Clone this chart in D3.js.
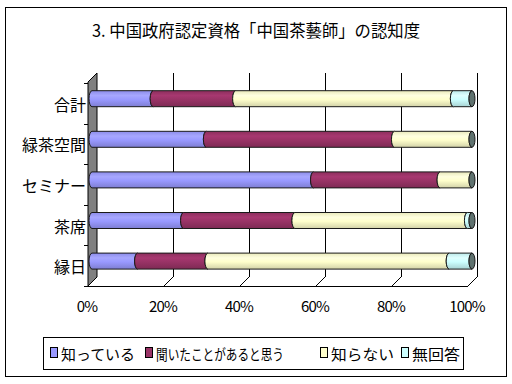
<!DOCTYPE html>
<html><head><meta charset="utf-8">
<script src="https://cdn.jsdelivr.net/npm/d3@7"></script>
<style>html,body{margin:0;padding:0;background:#fff;}svg{display:block;}</style>
</head><body>
<svg id="chart" width="512" height="384"></svg>
<script>
const categories = ["合計","緑茶空間","セミナー","茶席","縁日"];
const seriesNames = ["知っている","聞いたことがあると思う","知らない","無回答"];
const knowValues = [16.1, 30.1, 58.3, 24.1, 12.0];
const heardValues = [21.7, 49.5, 33.3, 29.3, 18.5];
const unknownValues = [57.3, 20.4, 8.4, 45.4, 63.5];
const noAnswerValues = [4.9, 0, 0, 1.2, 6.0];
const tickValues = [0, 20, 40, 60, 80, 100];
const tickLabels = ["0%","20%","40%","60%","80%","100%"];
const colors = ["#9999FF","#993366","#FFFFCC","#CCFFFF"];
const title = "3. 中国政府認定資格「中国茶藝師」の認知度";

const font = "'Noto Sans CJK JP','Noto Sans',sans-serif";
const svg = d3.select("#chart");

// frame
svg.append("rect").attr("x",5.5).attr("y",7.5).attr("width",501).attr("height",369)
  .attr("fill","#fff").attr("stroke","#000").attr("stroke-width",1);

// title
svg.append("text").attr("x",92).attr("y",37).attr("font-family",font).attr("font-size",17)
  .attr("textLength",328).attr("lengthAdjust","spacingAndGlyphs").attr("fill","#000").text(title);

// scales
const depthX = 9, depthY = 9;
const xFront = d3.scaleLinear().domain([0,100]).range([88,468]);
const xBack = d3.scaleLinear().domain([0,100]).range([88+depthX,468+depthX]);
const xBar = d3.scaleLinear().domain([0,100]).range([92,472]);
const yTop = 73, yBackBottom = 277, yFrontBottom = yBackBottom + depthY;
const y = d3.scaleBand().domain(categories).range([78.4, 281.4]);

// wall
svg.append("path")
  .attr("d",`M${xFront(0)},${yTop+depthY} L${xBack(0)},${yTop} L${xBack(0)},${yBackBottom} L${xFront(0)},${yFrontBottom} Z`)
  .attr("fill","#808080").attr("stroke","#000").attr("stroke-width",1);

// gridlines on back plane
const g = svg.append("g").attr("stroke","#000").attr("stroke-width",1).attr("fill","none");
tickValues.forEach(t=>{
  if (t>0) g.append("line").attr("x1",Math.round(xBack(t))+0.5).attr("x2",Math.round(xBack(t))+0.5)
    .attr("y1",yTop).attr("y2",yBackBottom);
  g.append("line").attr("x1",xBack(t)).attr("y1",yBackBottom).attr("x2",xFront(t)).attr("y2",yFrontBottom);
});
g.append("line").attr("x1",xFront(0)).attr("x2",xFront(100)).attr("y1",yFrontBottom+0.5).attr("y2",yFrontBottom+0.5);

// category ticks on wall edge
const bounds = categories.map(c=>y(c)).concat([y.range()[1]]);
bounds.forEach(b=>{
  g.append("line").attr("x1",xFront(0)-4).attr("x2",xFront(0)).attr("y1",Math.round(b+4.5)+0.5).attr("y2",Math.round(b+4.5)+0.5);
});

// category labels
svg.append("g").selectAll("text").data(categories).join("text")
  .attr("x",86).attr("y",c=>y(c)+y.bandwidth()/2+5)
  .attr("text-anchor","end").attr("dominant-baseline","central")
  .attr("font-family",font).attr("font-size",16).attr("fill","#000").text(c=>c);

// x tick labels
svg.append("g").selectAll("text").data(tickValues).join("text")
  .attr("x",(t)=>xFront(t)-1).attr("y",305).attr("text-anchor","middle").attr("dominant-baseline","central")
  .attr("font-family",font).attr("font-size",15).attr("letter-spacing",-0.8).attr("fill","#000")
  .text((t,i)=>tickLabels[i]);

// gradients
const defs = svg.append("defs");
colors.forEach((c,i)=>{
  const lg = defs.append("linearGradient").attr("id","grad"+i).attr("x1",0).attr("y1",0).attr("x2",0).attr("y2",1);
  const base = d3.color(c);
  lg.append("stop").attr("offset","0%").attr("stop-color",base.darker(0.25));
  lg.append("stop").attr("offset","30%").attr("stop-color",base.brighter(0.25));
  lg.append("stop").attr("offset","55%").attr("stop-color",base);
  lg.append("stop").attr("offset","100%").attr("stop-color",base.darker(0.55));
});

// stacked data
const table = categories.map((c,i)=>({cat:c, s0:knowValues[i], s1:heardValues[i], s2:unknownValues[i], s3:noAnswerValues[i]}));
const stack = d3.stack().keys(["s0","s1","s2","s3"]);
const layers = stack(table);

const barH = 16, rx = 3;
function segPath(x0,x1,yc){
  const r = barH/2;
  return `M${x0},${yc-r} L${x1},${yc-r} A${rx},${r} 0 0 0 ${x1},${yc+r} L${x0},${yc+r} A${rx},${r} 0 0 1 ${x0},${yc-r} Z`;
}
const barG = svg.append("g");
layers.forEach((layer,li)=>{
  barG.append("g").selectAll("path").data(layer.filter(d=>d[1]-d[0]>0.05)).join("path")
    .attr("d",d=>segPath(xBar(d[0]),xBar(d[1]),y(d.data.cat)+y.bandwidth()/2))
    .attr("fill","url(#grad"+li+")").attr("stroke","#1a1a1a").attr("stroke-width",1);
});
// end caps
barG.append("g").selectAll("ellipse").data(table).join("ellipse")
  .attr("cx",xBar(100)).attr("cy",d=>y(d.cat)+y.bandwidth()/2).attr("rx",rx).attr("ry",barH/2)
  .attr("fill","#5f726f").attr("stroke","#1a1a1a").attr("stroke-width",1);

// legend
const lg = svg.append("g");
lg.append("rect").attr("x",43.5).attr("y",337.5).attr("width",420).attr("height",32)
  .attr("fill","#fff").attr("stroke","#000").attr("stroke-width",1);
const legendKeyX = [50, 145, 320, 401];
const legendTextLen = [74, 128, 63, 48];
seriesNames.forEach((n,i)=>{
  lg.append("rect").attr("x",legendKeyX[i]+0.5).attr("y",347.5).attr("width",7).attr("height",10)
    .attr("fill",colors[i]).attr("stroke","#000").attr("stroke-width",1);
  lg.append("text").attr("x",legendKeyX[i]+11).attr("y",353).attr("dominant-baseline","central")
    .attr("font-family",font).attr("font-size",15).attr("fill","#000")
    .attr("textLength",legendTextLen[i]).attr("lengthAdjust","spacingAndGlyphs").text(n);
});
</script>
</body></html>
